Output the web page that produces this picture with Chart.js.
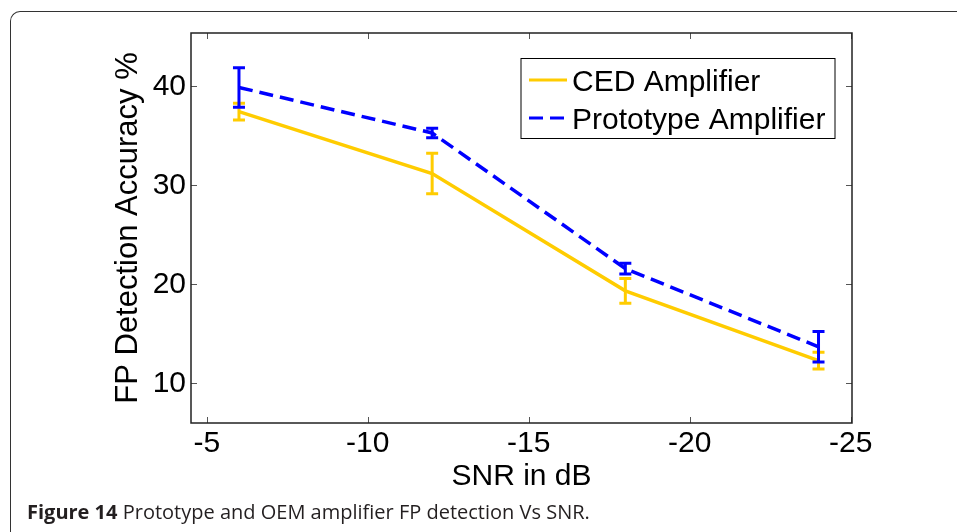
<!doctype html>
<html lang="en">
<head>
<meta charset="utf-8">
<title>FP detection vs SNR</title>
<style>
  body {margin: 0; background: #fff; width: 957px; height: 532px; overflow: hidden; position: relative;}
  #frame {position: absolute; left: 10px; top: 11px; width: 1000px; height: 600px;
          border-left: 1.5px solid #333; border-top: 1.5px solid #333; border-top-left-radius: 10px;}
  #chart {position: absolute; left: 0; top: 0;}
  #caption {position: absolute; left: 27px; top: 500px; font-family: "Open Sans", sans-serif;
            font-size: 20px; line-height: 24px; color: #231f20; white-space: nowrap;}
  #caption b {font-weight: 700;}
</style>
</head>
<body>
<div id="frame"></div>
<canvas id="chart" width="957" height="532"></canvas>
<div id="caption"><b>Figure 14</b> Prototype and OEM amplifier FP detection Vs SNR.</div>

<script src="https://cdn.jsdelivr.net/npm/chart.js@4.4.1/dist/chart.umd.min.js"></script>
<script>
// values
var snr = [-6, -12, -18, -24];
var cedAcc = [37.45, 31.2, 19.35, 12.3];
var cedErr = [0.85, 2.05, 1.25, 0.85];
var protoAcc = [39.9, 35.3, 21.6, 13.7];
var protoErr = [2.0, 0.48, 0.55, 1.55];
var xTickValues = [-5, -10, -15, -20, -25];
var yTickValues = [10, 20, 30, 40];

var FONT = "'Liberation Sans', Arial, Helvetica, sans-serif";

function points(xs, ys) {
  var out = [];
  for (var i = 0; i < xs.length; i++) out.push({x: xs[i], y: ys[i]});
  return out;
}

// error bars drawn right after each dataset's line, through the y scale
var errorBars = {
  id: 'errorBars',
  afterDatasetDraw: function(chart, args) {
    var ds = chart.data.datasets[args.index];
    var ys = chart.scales.y;
    var ctx = chart.ctx;
    ctx.save();
    ctx.strokeStyle = ds.borderColor;
    ctx.lineWidth = 3;
    ctx.setLineDash([]);
    args.meta.data.forEach(function(pt, i) {
      var v = ds.values[i], e = ds.errors[i];
      var top = ys.getPixelForValue(v + e), bot = ys.getPixelForValue(v - e);
      ctx.beginPath();
      ctx.moveTo(pt.x, top); ctx.lineTo(pt.x, bot);
      ctx.moveTo(pt.x - 6, top); ctx.lineTo(pt.x + 6, top);
      ctx.moveTo(pt.x - 6, bot); ctx.lineTo(pt.x + 6, bot);
      ctx.stroke();
    });
    ctx.restore();
  }
};

// matlab style box, inward ticks and legend
var boxAndLegend = {
  id: 'boxAndLegend',
  afterDraw: function(chart) {
    var ctx = chart.ctx, a = chart.chartArea;
    var xs = chart.scales.x, ys = chart.scales.y;
    ctx.save();
    ctx.strokeStyle = '#555';
    ctx.lineWidth = 1;
    ctx.beginPath();
    xs.ticks.forEach(function(t) {
      var px = Math.round(xs.getPixelForValue(t.value)) + 0.5;
      ctx.moveTo(px, a.bottom); ctx.lineTo(px, a.bottom - 6);
      ctx.moveTo(px, a.top); ctx.lineTo(px, a.top + 6);
    });
    ys.ticks.forEach(function(t) {
      var py = Math.round(ys.getPixelForValue(t.value)) + 0.5;
      ctx.moveTo(a.left, py); ctx.lineTo(a.left + 6, py);
      ctx.moveTo(a.right, py); ctx.lineTo(a.right - 6, py);
    });
    ctx.stroke();
    ctx.strokeStyle = '#222';
    ctx.lineWidth = 1.5;
    ctx.strokeRect(a.left, a.top, a.right - a.left, a.bottom - a.top);

    // legend
    var lx = 521, ly = 58.5, lw = 314, lh = 80;
    ctx.fillStyle = '#fff';
    ctx.fillRect(lx, ly, lw, lh);
    ctx.strokeStyle = '#000';
    ctx.lineWidth = 1;
    ctx.strokeRect(lx, ly, lw, lh);
    ctx.font = '30px ' + FONT;
    ctx.textBaseline = 'alphabetic';
    ctx.textAlign = 'left';
    var rows = [80, 118];
    chart.data.datasets.forEach(function(ds, i) {
      var y = rows[i];
      ctx.strokeStyle = ds.borderColor;
      ctx.lineWidth = 3;
      ctx.setLineDash(ds.borderDash || []);
      ctx.beginPath();
      ctx.moveTo(529, y); ctx.lineTo(567, y);
      ctx.stroke();
      ctx.setLineDash([]);
      ctx.fillStyle = '#000';
      ctx.fillText(ds.label, 572, y + 11);
    });
    ctx.restore();
  }
};

new Chart(document.getElementById('chart'), {
  type: 'line',
  data: {
    datasets: [{
      label: 'CED Amplifier',
      data: points(snr, cedAcc),
      values: cedAcc,
      errors: cedErr,
      borderColor: '#ffcc00',
      borderWidth: 3.5,
      pointRadius: 0,
      tension: 0,
      order: 1
    }, {
      label: 'Prototype Amplifier',
      data: points(snr, protoAcc),
      values: protoAcc,
      errors: protoErr,
      borderColor: '#0000ff',
      borderWidth: 3.5,
      borderDash: [14, 7],
      pointRadius: 0,
      tension: 0,
      order: 0
    }]
  },
  options: {
    responsive: false,
    animation: false,
    layout: {padding: {left: 0, top: 33, right: 105, bottom: 34}},
    plugins: {legend: {display: false}, tooltip: {enabled: false}},
    scales: {
      x: {
        type: 'linear',
        reverse: true,
        min: -25.04,
        max: -4.51,
        grid: {display: false, drawTicks: false, tickLength: 0},
        border: {display: false},
        afterBuildTicks: function(s) { s.ticks = xTickValues.map(function(v) { return {value: v}; }); },
        afterFit: function(s) { s.height = 75; },
        ticks: {color: '#000', padding: 3, font: {family: FONT, size: 30}, maxRotation: 0,
                callback: function(v) { return String(v); }},
        title: {display: true, text: 'SNR in dB', color: '#000', padding: {top: 0, bottom: 3},
                font: {family: FONT, size: 30}}
      },
      y: {
        min: 6,
        max: 45.4,
        grid: {display: false, drawTicks: false, tickLength: 0},
        border: {display: false},
        afterBuildTicks: function(s) { s.ticks = yTickValues.map(function(v) { return {value: v}; }); },
        afterFit: function(s) { s.width = 191; },
        ticks: {color: '#000', padding: 5, font: {family: FONT, size: 30},
                callback: function(v) { return String(v); }},
        title: {display: true, text: 'FP Detection Accuracy %', color: '#000', padding: {top: 110, bottom: 0},
                font: {family: FONT, size: 31}}
      }
    }
  },
  plugins: [errorBars, boxAndLegend]
});
</script>
</body>
</html>
